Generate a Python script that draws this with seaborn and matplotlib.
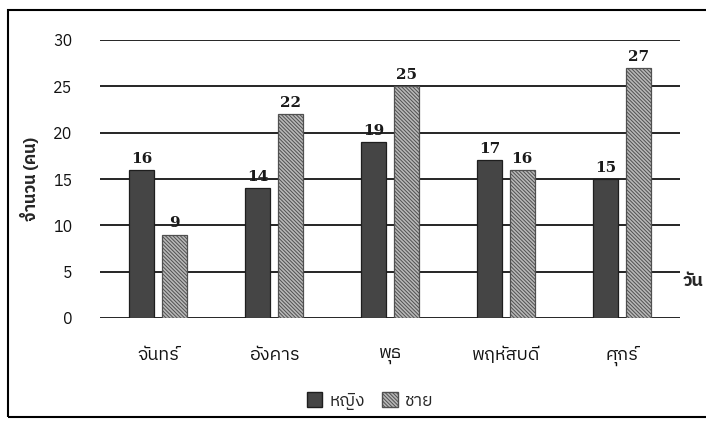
import matplotlib
matplotlib.use("Agg")
import matplotlib.pyplot as plt
from matplotlib import font_manager
from matplotlib.ft2font import FT2Font
from matplotlib.patches import Patch, Rectangle
import seaborn as sns
import pandas as pd

# ข้อมูล
days = ["จันทร์", "อังคาร", "พุธ", "พฤหัสบดี", "ศุกร์"]
female = [16, 14, 19, 17, 15]
male = [9, 22, 25, 16, 27]
groups = ["หญิง", "ชาย"]

female_color = "#454545"
male_face = "#b8b8b8"
male_hatch = "#505050"
hatch = "\\" * 9


def find_thai_font():
    # หา font ที่มีตัวอักษรไทย (จ = U+0E08)
    names = []
    for f in font_manager.fontManager.ttflist:
        try:
            if FT2Font(f.fname).get_char_index(0x0E08):
                names.append(f.name)
        except Exception:
            pass
    names = sorted(set(names), key=lambda n: (0 if "Thai" in n else 1, n))
    return names[0] if names else None


df = pd.DataFrame({
    "day": days * 2,
    "count": female + male,
    "sex": [groups[0]] * len(days) + [groups[1]] * len(days),
})

sns.set_style("white")
thai = find_thai_font()
plt.rcParams["font.family"] = ([thai] if thai else []) + ["DejaVu Sans"]
plt.rcParams["hatch.linewidth"] = 0.7

fig = plt.figure(figsize=(7.06, 4.24), dpi=100)
ax = fig.add_axes([100 / 706, 1 - 318 / 424, 580 / 706, 278 / 424])

sns.barplot(data=df, x="day", y="count", hue="sex",
            palette=[female_color, male_face], width=0.56, gap=0.22,
            saturation=1, legend=False, ax=ax)

for bar in ax.containers[0]:
    bar.set_edgecolor("#1e1e1e")
    bar.set_linewidth(0.9)
for bar in ax.containers[1]:
    bar.set_hatch(hatch)
    bar.set_edgecolor(male_hatch)
    bar.set_linewidth(0.9)

for c in ax.containers:
    ax.bar_label(c, padding=3, fontsize=11, fontweight="bold",
                 family="DejaVu Serif", color="#1a1a1a")

ax.set_ylim(0, 30)
ax.set_yticks(range(0, 31, 5))
ax.set_xlim(-0.5, 4.5)
ax.grid(axis="y", color="black", linewidth=1.2)
ax.set_axisbelow(True)
sns.despine(ax=ax, left=True, bottom=True)
ax.tick_params(axis="both", length=0, colors="#111111")
ax.tick_params(axis="x", pad=20, labelsize=13)
ax.tick_params(axis="y", pad=20, labelsize=11.5)
ax.set_xlabel("")
ax.set_ylabel("จำนวน (คน)", fontsize=12, fontweight="bold", labelpad=10)
ax.text(1.005, 4, "วัน", transform=ax.get_yaxis_transform(),
        fontsize=13, fontweight="bold", va="center", ha="left")

handles = [Patch(facecolor=female_color, edgecolor="#1e1e1e"),
           Patch(facecolor=male_face, edgecolor=male_hatch, hatch=hatch)]
fig.legend(handles, groups, loc="center", bbox_to_anchor=(370 / 706, 1 - 401 / 424),
           ncol=2, frameon=False, fontsize=12.5, handlelength=0.9,
           handleheight=0.9, handletextpad=0.4, columnspacing=1.0)

fig.patches.append(Rectangle((8 / 706, 1 - 417 / 424), 1.0, 407 / 424,
                             transform=fig.transFigure, fill=False,
                             edgecolor="black", linewidth=1.5))

fig.savefig("out.png", dpi=100)
